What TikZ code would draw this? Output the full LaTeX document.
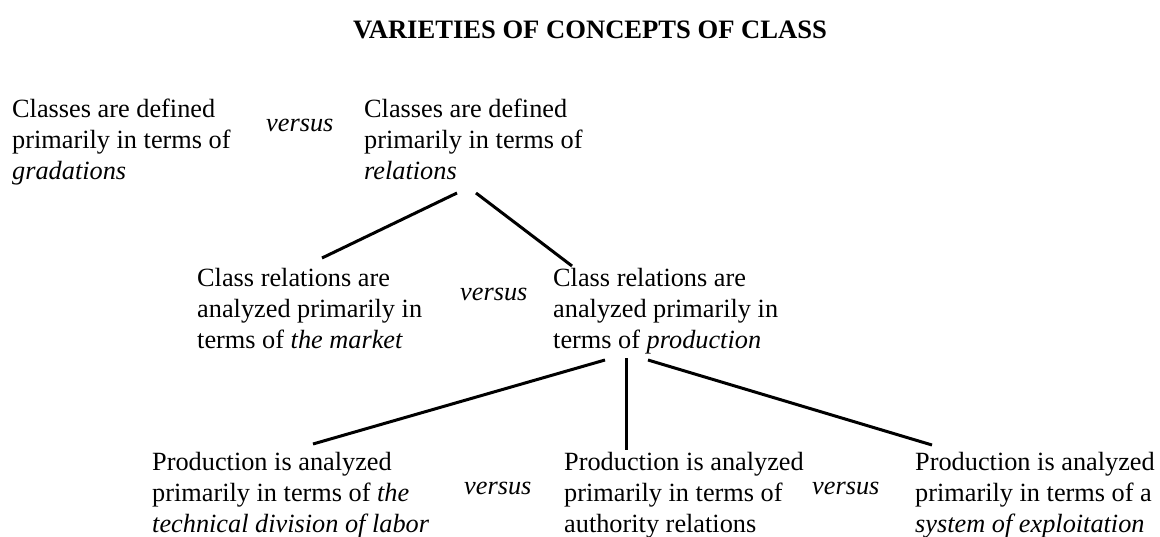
\documentclass[tikz,border=0pt]{standalone}
\usepackage{fontspec}
\setmainfont{Liberation Serif}
\newcommand{\blocktext}[3]{\vtop{\hbox{#1}\hbox{#2}\hbox{#3}}}
\begin{document}
\begin{tikzpicture}[x=1pt,y=-1pt,
  txt/.style={anchor=base west,inner sep=0pt,font=\fontsize{26.3}{31}\selectfont},
  vs/.style={anchor=base west,inner sep=0pt,font=\fontsize{26.3}{31}\selectfont\itshape},
  conn/.style={line width=3pt}]
\useasboundingbox (0,0) rectangle (1160,536);
\node[anchor=base,inner sep=0pt,font=\fontsize{26.6}{31}\selectfont\bfseries] (title) at (590,38) {VARIETIES OF CONCEPTS OF CLASS};
% row 1
\node[txt] (grad) at (12,117) {\blocktext{Classes are defined}{primarily in terms of}{\textit{gradations}}};
\node[vs] (v1) at (266,131) {versus};
\node[txt] (rel) at (364,117) {\blocktext{Classes are defined}{primarily in terms of}{\textit{relations}}};
% row 2
\node[txt] (market) at (197,286) {\blocktext{Class relations are}{analyzed primarily in}{terms of \textit{the market}}};
\node[vs] (v2) at (460,300) {versus};
\node[txt] (prod) at (553,286) {\blocktext{Class relations are}{analyzed primarily in}{terms of \textit{production}}};
% row 3
\node[txt] (tech) at (152,470) {\blocktext{Production is analyzed}{primarily in terms of \textit{the}}{\textit{technical division of labor}}};
\node[vs] (v3) at (464,494) {versus};
\node[txt] (auth) at (564,470) {\blocktext{Production is analyzed}{primarily in terms of}{authority relations}};
\node[vs] (v4) at (812,494) {versus};
\node[txt] (expl) at (915,470) {\blocktext{Production is analyzed}{primarily in terms of a}{\textit{system of exploitation}}};
% connector ends
\coordinate (r1) at (457,193);
\coordinate (r2) at (476,193);
\coordinate (m1) at (322,258);
\coordinate (p1) at (572,266);
\coordinate (q1) at (605,360);
\coordinate (q2) at (626,358);
\coordinate (q3) at (648,360);
\coordinate (t1) at (313,444);
\coordinate (a1) at (626,450);
\coordinate (e1) at (932,445);
\draw[conn] (r1) -- (m1);
\draw[conn] (r2) -- (p1);
\draw[conn] (q1) -- (t1);
\draw[conn] (q2) -- (a1);
\draw[conn] (q3) -- (e1);
\end{tikzpicture}
\end{document}
